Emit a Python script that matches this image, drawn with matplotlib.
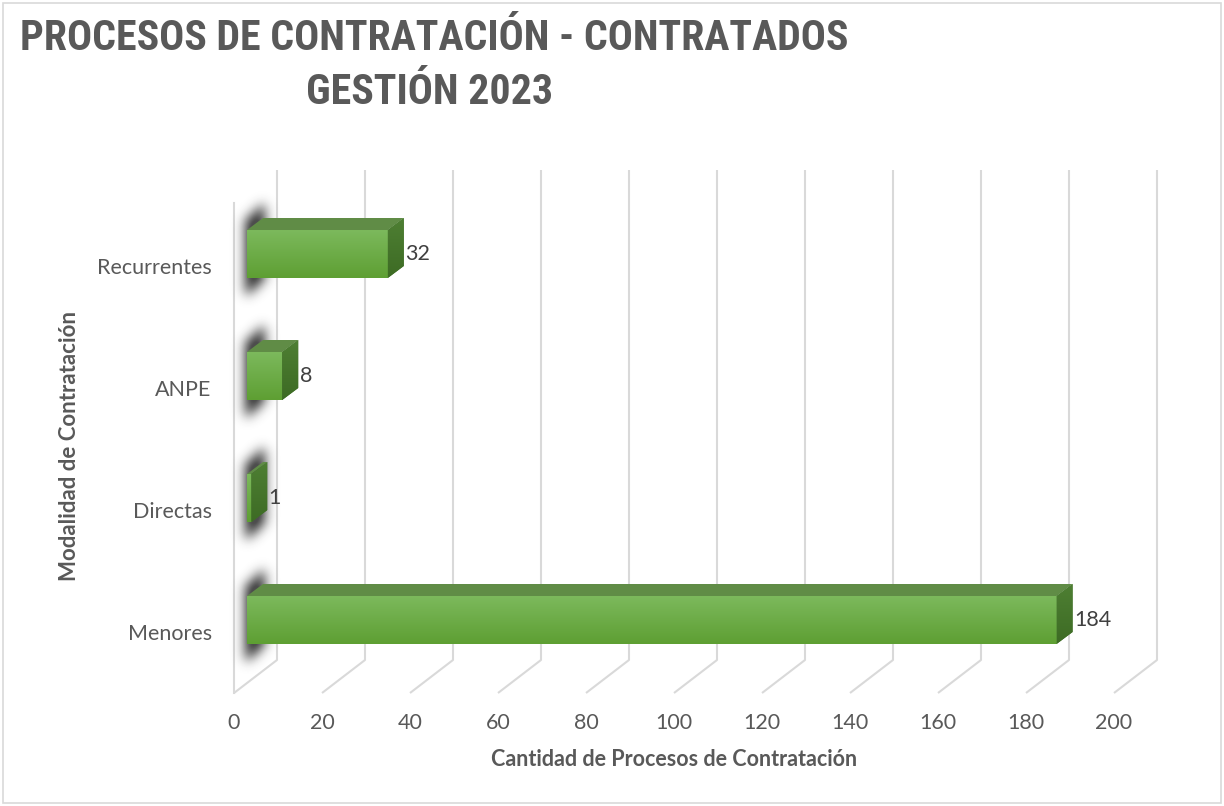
import matplotlib
matplotlib.use("Agg")
import matplotlib.pyplot as plt
from matplotlib import font_manager
from matplotlib.patches import Polygon, Rectangle
import numpy as np

# Data (bottom to top, as drawn)
categories = ["Menores", "Directas", "ANPE", "Recurrentes"]
values = [184, 1, 8, 32]
x_ticks = [0, 20, 40, 60, 80, 100, 120, 140, 160, 180, 200]

title_lines = ["PROCESOS DE CONTRATACIÓN - CONTRATADOS", "GESTIÓN 2023"]
x_label = "Cantidad de Procesos de Contratación"
y_label = "Modalidad de Contratación"

plt.rcParams["font.family"] = ["Lato", "DejaVu Sans"]
TXT = "#595959"

# pick a narrow face for the title if one is installed
installed = {f.name for f in font_manager.fontManager.ttflist}
title_font = "Lato"
for cand in ["Liberation Sans Narrow", "Roboto Condensed", "Open Sans Condensed", "Noto Sans Condensed"]:
    if cand in installed:
        title_font = cand
        break

W, H = 1224, 806
fig = plt.figure(figsize=(W / 100, H / 100), dpi=100)

# pixel geometry of the 3D box (front x=0 at px 234, 4.4 px/unit; row 0 at px 632, 122 px/unit)
X0, SX = 234, 4.4
Y0, SY = 632, 122
xlim = (-3, 212)
ylim = (-0.55, 3.9)
left = X0 + xlim[0] * SX
right = X0 + xlim[1] * SX
top = Y0 - ylim[1] * SY
bottom = Y0 - ylim[0] * SY
ax = fig.add_axes([left / W, (H - bottom) / H, (right - left) / W, (bottom - top) / H])
ax.set_xlim(*xlim)
ax.set_ylim(*ylim)
for s in ax.spines.values():
    s.set_visible(False)

# depth offsets (data units)
BX, BY = 43 / SX, 33 / SY        # back wall
FX, FY = 13 / SX, 12 / SY        # bar front face
DX, DY = 16 / SX, 12 / SY        # bar depth
BH = 48 / SY                     # bar height
floor_front, floor_back = -0.5, -0.5 + BY
wall_top_back = (Y0 - 170) / SY

grid = "#d9d9d9"
for t in x_ticks:
    ax.plot([t + BX, t + BX, t], [wall_top_back, floor_back, floor_front],
            color=grid, lw=1.5, zorder=1, solid_capstyle="butt")
ax.plot([0, 0], [floor_front, wall_top_back - BY], color=grid, lw=1.5, zorder=1)

# blurred shadows on the side wall
px0, px1, py0, py1 = 218, 296, 140, 710
xs = np.arange(px0, px1)
ys = np.arange(py0, py1)
XX, YY = np.meshgrid(xs, ys)
mask = np.zeros_like(XX, dtype=float)
for i in range(len(categories)):
    yc = Y0 - SY * i - 12
    f = (XX - X0) / 43.0
    shift = (f - 0.45) * 40
    inside = (f > 0.25) & (f < 0.68) & (YY > yc - 42 - shift) & (YY < yc + 34 - shift)
    mask[inside] = 1.0
k = np.exp(-0.5 * (np.arange(-20, 21) / 6.0) ** 2)
k /= k.sum()
mask = np.apply_along_axis(lambda r: np.convolve(r, k, mode="same"), 1, mask)
mask = np.apply_along_axis(lambda c: np.convolve(c, k, mode="same"), 0, mask)
rgba = np.zeros(mask.shape + (4,))
rgba[..., :3] = 0.15
rgba[..., 3] = np.clip(mask * 1.05, 0, 0.82)
ax.imshow(rgba, extent=[(px0 - X0) / SX, (px1 - X0) / SX, (Y0 - py1) / SY, (Y0 - py0) / SY],
          origin="upper", aspect="auto", zorder=2, interpolation="bilinear")

# bars
front_grad = np.linspace(0, 1, 64)[:, None]
c_top = np.array([0x7c, 0xb9, 0x5c]) / 255
c_bot = np.array([0x5e, 0x9f, 0x33]) / 255
grad_img = c_top + (c_bot - c_top) * front_grad[..., None]
grad_img = np.repeat(grad_img, 2, axis=1)

s_top = np.array([0x4e, 0x7f, 0x33]) / 255
s_bot = np.array([0x3d, 0x6b, 0x24]) / 255
side_grad = np.repeat(s_top + (s_bot - s_top) * front_grad[..., None], 2, axis=1)

for i, (cat, v) in enumerate(zip(categories, values)):
    y_lo = i + FY - BH / 2
    y_hi = i + FY + BH / 2
    bars = ax.barh(i + FY, v, height=BH, left=FX, color="#6aab3f", zorder=3)
    face = bars.patches[0]
    im = ax.imshow(grad_img, extent=[FX, FX + v, y_lo, y_hi], aspect="auto",
                   zorder=3.1, origin="upper")
    im.set_clip_path(face)
    ax.add_patch(Polygon([(FX, y_hi), (FX + v, y_hi), (FX + v + DX, y_hi + DY), (FX + DX, y_hi + DY)],
                         closed=True, facecolor="#608c46", edgecolor="none", zorder=3.2))
    side = Polygon([(FX + v, y_lo), (FX + v, y_hi), (FX + v + DX, y_hi + DY), (FX + v + DX, y_lo + DY)],
                   closed=True, facecolor="#467530", edgecolor="none", zorder=3.2)
    ax.add_patch(side)
    sim = ax.imshow(side_grad, extent=[FX + v, FX + v + DX, y_lo, y_hi + DY], aspect="auto",
                    zorder=3.3, origin="upper")
    sim.set_clip_path(side)
    ax.text(FX + v + DX + 0.3, i + FY, str(v), ha="left", va="center",
            fontsize=15.5, color="#404040", zorder=4)

ax.set_xticks(x_ticks)
ax.set_xticklabels([str(t) for t in x_ticks])
ax.set_yticks(range(len(categories)))
ax.set_yticklabels(categories)
ax.tick_params(axis="both", length=0, labelsize=15.5, labelcolor=TXT)
ax.tick_params(axis="x", pad=10)
ax.tick_params(axis="y", pad=6.5)

# title: size the first line to span ~828 px like the reference
t1 = fig.text(434 / W, 1 - 39 / H, title_lines[0], ha="center", va="center", fontsize=30,
              fontweight="bold", color=TXT, family=title_font)
renderer = fig.canvas.get_renderer()
w = t1.get_window_extent(renderer).width
tsize = 30 * 828 / w
t1.set_fontsize(tsize)
fig.text(430 / W, 1 - 92 / H, title_lines[1], ha="center", va="center", fontsize=tsize,
         fontweight="bold", color=TXT, family=title_font)

fig.text(674 / W, 1 - 760 / H, x_label, ha="center", va="center", fontsize=15.5,
         fontweight="bold", color=TXT)
fig.text(70 / W, 1 - 446 / H, y_label, ha="center", va="center", fontsize=16,
         fontweight="bold", color=TXT, rotation=90)

fig.patches.append(Rectangle((3 / W, 3 / H), 1 - 6 / W, 1 - 6 / H, transform=fig.transFigure,
                             fill=False, edgecolor="#d9d9d9", lw=1.2))

fig.savefig("out.png", dpi=100, facecolor="white")
